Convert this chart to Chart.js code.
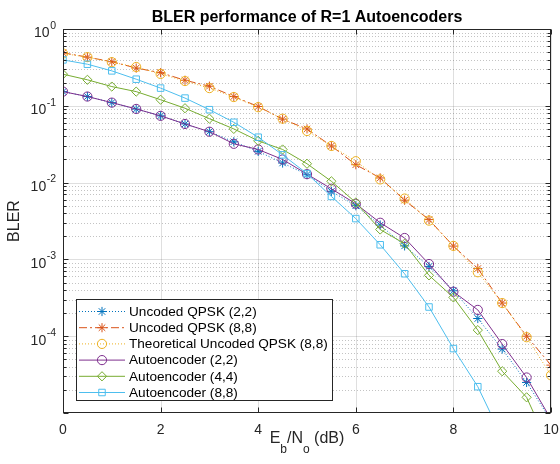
<!DOCTYPE html>
<html>
<head>
<meta charset="utf-8">
<title>BLER performance of R=1 Autoencoders</title>
<script src="https://cdn.jsdelivr.net/npm/chart.js@4.4.1/dist/chart.umd.min.js"></script>
<style>
  html, body { margin: 0; padding: 0; background: #fff; }
  canvas { display: block; }
</style>
</head>
<body>
<canvas id="grafico" width="560" height="464"></canvas>
<script>
// Eb/No (dB)
const ebno = [0, 0.5, 1, 1.5, 2, 2.5, 3, 3.5, 4, 4.5, 5, 5.5, 6, 6.5, 7, 7.5, 8, 8.5, 9, 9.5, 10];

// BLER de cada curva
const uncodedQpsk22 = [0.153, 0.132, 0.110, 0.0906, 0.074, 0.058, 0.046, 0.034, 0.0255, 0.018, 0.0127, 0.0077, 0.0050, 0.0028, 0.0015, 8.1e-4, 3.9e-4, 1.7e-4, 6.8e-5, 2.5e-5, 8e-6];
const uncodedQpsk88 = [0.49, 0.43, 0.375, 0.31, 0.27, 0.215, 0.18, 0.132, 0.098, 0.067, 0.050, 0.030, 0.0171, 0.0115, 0.0059, 0.0033, 0.00149, 7.6e-4, 2.7e-4, 1.0e-4, 4.2e-5];
const teoricoQpsk88 = [0.48, 0.43, 0.37, 0.32, 0.26, 0.21, 0.17, 0.13, 0.096, 0.068, 0.047, 0.030, 0.019, 0.011, 0.0062, 0.0032, 0.0015, 6.8e-4, 2.7e-4, 9.7e-5, 3.1e-5];
const autoenc22 = [0.153, 0.132, 0.110, 0.091, 0.074, 0.058, 0.046, 0.032, 0.027, 0.020, 0.0129, 0.0083, 0.0053, 0.0030, 0.0019, 8.7e-4, 3.8e-4, 2.2e-4, 7.9e-5, 2.9e-5, 8.3e-6];
const autoenc44 = [0.258, 0.218, 0.178, 0.153, 0.120, 0.093, 0.068, 0.050, 0.035, 0.027, 0.0176, 0.0104, 0.0055, 0.00245, 0.0016, 6.2e-4, 3.2e-4, 1.2e-4, 3.5e-5, 1.6e-5, 3.2e-6];
const autoenc88 = [0.396, 0.348, 0.285, 0.222, 0.170, 0.126, 0.089, 0.061, 0.039, 0.023, 0.0131, 0.0066, 0.0034, 0.00155, 6.5e-4, 2.4e-4, 6.9e-5, 2.2e-5, 4.8e-6];

// marcas de los ejes
const xTicks = [0, 2, 4, 6, 8, 10];
const yExponentes = [0, -1, -2, -3, -4];

const FUENTE = '"Liberation Sans", Arial, Helvetica, sans-serif';
const GRIS = '#262626';

function serie(label, data, color, dash, punto) {
  return {
    label: label,
    data: data.map((v, i) => ({ x: ebno[i], y: v })),
    borderColor: color,
    borderWidth: 1,
    borderDash: dash,
    pointStyle: punto,
    pointRadius: 4.6,
    pointBorderWidth: 1,
    pointBorderColor: color,
    pointBackgroundColor: 'rgba(0,0,0,0)',
    tension: 0,
    fill: false
  };
}

const datasets = [
  serie('Uncoded QPSK (2,2)', uncodedQpsk22, '#0072BD', [1, 2], 'star'),
  serie('Uncoded QPSK (8,8)', uncodedQpsk88, '#D95319', [8, 3, 2, 3], 'star'),
  serie('Theoretical Uncoded QPSK (8,8)', teoricoQpsk88, '#EDB120', [1, 2], 'circle'),
  serie('Autoencoder (2,2)', autoenc22, '#7E2F8E', [], 'circle'),
  serie('Autoencoder (4,4)', autoenc44, '#77AC30', [], 'rectRot'),
  serie('Autoencoder (8,8)', autoenc88, '#4DBEEE', [], 'rect')
];
// las ultimas curvas quedan encima
datasets.forEach((d, i) => { d.order = datasets.length - i; });

// marcador para la leyenda
function marcador(ctx, tipo, x, y, r) {
  ctx.beginPath();
  if (tipo === 'circle') {
    ctx.arc(x, y, r, 0, Math.PI * 2);
  } else if (tipo === 'rectRot') {
    ctx.moveTo(x, y - r); ctx.lineTo(x + r, y); ctx.lineTo(x, y + r); ctx.lineTo(x - r, y); ctx.closePath();
  } else if (tipo === 'rect') {
    const s = r * Math.SQRT1_2;
    ctx.rect(x - s, y - s, 2 * s, 2 * s);
  } else if (tipo === 'star') {
    const d = r * Math.SQRT1_2;
    ctx.moveTo(x, y - r); ctx.lineTo(x, y + r);
    ctx.moveTo(x - r, y); ctx.lineTo(x + r, y);
    ctx.moveTo(x - d, y - d); ctx.lineTo(x + d, y + d);
    ctx.moveTo(x - d, y + d); ctx.lineTo(x + d, y - d);
  }
  ctx.stroke();
}

function linea(ctx, x1, y1, x2, y2) {
  ctx.beginPath();
  ctx.moveTo(x1, y1);
  ctx.lineTo(x2, y2);
  ctx.stroke();
}

const estilo = {
  id: 'estilo',
  beforeDatasetsDraw(chart) {
    const { ctx, chartArea: a, scales: { x, y } } = chart;
    ctx.save();
    ctx.lineWidth = 1;
    // rejilla menor punteada (solo eje y)
    ctx.strokeStyle = 'rgba(38,38,38,0.28)';
    ctx.setLineDash([1, 2]);
    for (let e = -5; e < 0; e++) {
      for (let m = 2; m <= 9; m++) {
        const py = Math.round(y.getPixelForValue(m * Math.pow(10, e))) + 0.5;
        linea(ctx, a.left, py, a.right, py);
      }
    }
    // rejilla mayor
    ctx.setLineDash([]);
    ctx.strokeStyle = 'rgba(38,38,38,0.15)';
    yExponentes.forEach(e => {
      const py = Math.round(y.getPixelForValue(Math.pow(10, e))) + 0.5;
      linea(ctx, a.left, py, a.right, py);
    });
    xTicks.forEach(v => {
      const px = Math.round(x.getPixelForValue(v)) + 0.5;
      linea(ctx, px, a.top, px, a.bottom);
    });
    ctx.restore();
  },
  afterDatasetsDraw(chart) {
    const { ctx, chartArea: a, scales: { x, y } } = chart;
    ctx.save();
    ctx.strokeStyle = GRIS;
    ctx.lineWidth = 1;
    ctx.setLineDash([]);
    const L = Math.round(a.left) + 0.5, R = Math.round(a.right) - 0.5;
    const T = Math.round(a.top) + 0.5, B = Math.round(a.bottom) - 0.5;
    ctx.strokeRect(L, T, R - L, B - T);
    // marcas hacia dentro
    xTicks.forEach(v => {
      const px = Math.round(x.getPixelForValue(v)) + 0.5;
      linea(ctx, px, B, px, B - 5);
      linea(ctx, px, T, px, T + 5);
    });
    for (let e = -5; e <= 0; e++) {
      const py = Math.round(y.getPixelForValue(Math.pow(10, e))) + 0.5;
      linea(ctx, L, py, L + 5, py);
      linea(ctx, R, py, R - 5, py);
      if (e < 0) {
        for (let m = 2; m <= 9; m++) {
          const pm = Math.round(y.getPixelForValue(m * Math.pow(10, e))) + 0.5;
          linea(ctx, L, pm, L + 3, pm);
          linea(ctx, R, pm, R - 3, pm);
        }
      }
    }
    ctx.restore();
  },
  afterDraw(chart) {
    const { ctx, chartArea: a, scales: { y } } = chart;
    const cx = (a.left + a.right) / 2;
    ctx.save();
    ctx.fillStyle = GRIS;

    // etiquetas 10^n del eje y
    yExponentes.forEach(e => {
      const py = y.getPixelForValue(Math.pow(10, e));
      const exp = e === 0 ? '0' : '-' + Math.abs(e);
      ctx.font = '10.5px ' + FUENTE;
      const ws = ctx.measureText(exp).width;
      const xd = a.left - 7;
      ctx.textBaseline = 'middle';
      ctx.textAlign = 'left';
      ctx.fillText(exp, xd - ws, py - 3);
      ctx.font = '14px ' + FUENTE;
      ctx.textAlign = 'right';
      ctx.fillText('10', xd - ws - 0.5, py + 4.5);
    });

    // titulo
    ctx.font = 'bold 16px ' + FUENTE;
    ctx.textAlign = 'center';
    ctx.textBaseline = 'middle';
    ctx.fillStyle = '#000';
    ctx.fillText('BLER performance of R=1 Autoencoders', cx, 18);

    // etiqueta eje y
    ctx.fillStyle = GRIS;
    ctx.save();
    ctx.translate(15, (a.top + a.bottom) / 2);
    ctx.rotate(-Math.PI / 2);
    ctx.font = '16px ' + FUENTE;
    ctx.fillText('BLER', 0, 0);
    ctx.restore();

    // etiqueta eje x con subindices
    const partes = [['E', 0], ['b', 1], ['/N', 0], ['o', 1], [' (dB)', 0]];
    let ancho = 0;
    partes.forEach(p => {
      ctx.font = (p[1] ? '12px ' : '16px ') + FUENTE;
      ancho += ctx.measureText(p[0]).width;
    });
    let px = cx - ancho / 2;
    ctx.textAlign = 'left';
    partes.forEach(p => {
      ctx.font = (p[1] ? '12px ' : '16px ') + FUENTE;
      ctx.fillText(p[0], px, p[1] ? 450 : 439);
      px += ctx.measureText(p[0]).width;
    });

    // leyenda
    const lx = a.left + 13, ly = a.bottom - 114, lw = 256, lh = 101;
    ctx.fillStyle = '#fff';
    ctx.fillRect(lx, ly, lw, lh);
    ctx.strokeStyle = GRIS;
    ctx.lineWidth = 1;
    ctx.strokeRect(Math.round(lx) + 0.5, Math.round(ly) + 0.5, lw, lh);
    chart.data.datasets.forEach((d, i) => {
      const yy = ly + 12.5 + i * 16.2;
      ctx.strokeStyle = d.borderColor;
      ctx.lineWidth = 1;
      ctx.setLineDash(d.borderDash);
      linea(ctx, lx + 3, yy, lx + 49, yy);
      ctx.setLineDash([]);
      marcador(ctx, d.pointStyle, lx + 26, yy, 4.6);
      ctx.fillStyle = '#000';
      ctx.font = '13.6px ' + FUENTE;
      ctx.textAlign = 'left';
      ctx.textBaseline = 'middle';
      ctx.fillText(d.label, lx + 53, yy + 0.5);
    });
    ctx.restore();
  }
};

new Chart(document.getElementById('grafico'), {
  type: 'line',
  data: { datasets: datasets },
  options: {
    responsive: false,
    animation: false,
    devicePixelRatio: 1,
    layout: { padding: { top: 29, right: 9, left: 0, bottom: 0 } },
    plugins: {
      legend: { display: false },
      title: { display: false },
      tooltip: { enabled: false }
    },
    scales: {
      x: {
        type: 'linear',
        min: 0,
        max: 10,
        grid: { display: false },
        border: { display: false },
        ticks: {
          stepSize: 2,
          color: GRIS,
          padding: 1,
          maxRotation: 0,
          font: { family: FUENTE, size: 14 }
        },
        afterFit(scale) { scale.height = 51; }
      },
      y: {
        type: 'logarithmic',
        min: 1e-5,
        max: 1,
        grid: { display: false },
        border: { display: false },
        ticks: { display: false },
        afterFit(scale) { scale.width = 63; }
      }
    }
  },
  plugins: [estilo]
});
</script>
</body>
</html>
